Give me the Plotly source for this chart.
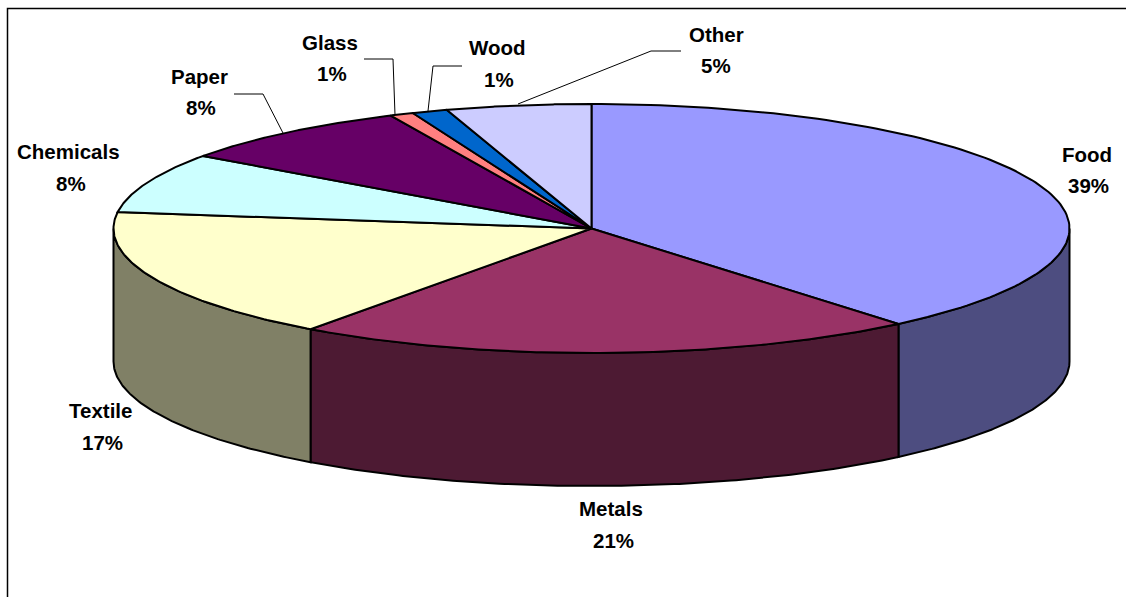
import numpy as np
import plotly.graph_objects as go

categories = ["Food", "Metals", "Textile", "Chemicals", "Paper", "Glass", "Wood", "Other"]
shares = [38.9, 21.1, 17.1, 7.8, 8.2, 0.8, 1.2, 4.9]
percent_labels = ["39%", "21%", "17%", "8%", "8%", "1%", "1%", "5%"]
top_colors = ["#9999FF", "#993366", "#FFFFCC", "#CCFFFF", "#660066", "#FF8080", "#0066CC", "#CCCCFF"]
side_colors = ["#4D4D80", "#4D1A33", "#808066", "#668080", "#330033", "#804040", "#003366", "#666680"]

CX, CY, RX, RY, DEPTH = 591.5, 228.5, 478, 124.5, 133
W, H = 1126, 597
EDGE = dict(color="black", width=2)

name_pos = [(1087, 154), (611, 508), (100, 410), (68, 151), (199, 76), (330, 42), (497, 47), (716, 34)]
pct_pos = [(1088, 185), (613, 540), (102, 442), (71, 183), (201, 107), (332, 73), (499, 79), (716, 65)]
leaders = {
    "Paper": [(234, 94), (263, 94), (283, 133)],
    "Glass": [(364, 59), (393, 59), (395, 115)],
    "Wood": [(462, 66), (433, 66), (428, 111)],
    "Other": [(518, 104), (651, 51), (681, 51)],
}


def rim(a0, a1, n=120):
    t = np.radians(np.linspace(a0, a1, n))
    return CX + RX * np.sin(t), CY - RY * np.cos(t)


fig = go.Figure()
edges = np.concatenate([[0], np.cumsum(shares)]) / sum(shares) * 360

# side walls of the disc (only the front half, 90..270 degrees, is visible)
for i, cat in enumerate(categories):
    a0, a1 = max(edges[i], 90), min(edges[i + 1], 270)
    if a1 <= a0:
        continue
    x, y = rim(a0, a1)
    fig.add_trace(go.Scatter(
        x=np.concatenate([x, x[::-1], x[:1]]),
        y=np.concatenate([y, y[::-1] + DEPTH, y[:1]]),
        mode="lines", fill="toself", fillcolor=side_colors[i], line=EDGE,
        hoverinfo="skip", showlegend=False, name=cat + " side"))

# top faces of the slices
for i, cat in enumerate(categories):
    x, y = rim(edges[i], edges[i + 1])
    fig.add_trace(go.Scatter(
        x=np.concatenate([[CX], x, [CX]]),
        y=np.concatenate([[CY], y, [CY]]),
        mode="lines", fill="toself", fillcolor=top_colors[i], line=EDGE,
        hoverinfo="skip", showlegend=False, name=cat))

# leader lines
for cat, pts in leaders.items():
    fig.add_trace(go.Scatter(
        x=[p[0] for p in pts], y=[p[1] for p in pts], mode="lines",
        line=dict(color="black", width=1), hoverinfo="skip", showlegend=False))

FONT = dict(family="Liberation Sans", size=20.5, color="black")
annotations = []
for i, cat in enumerate(categories):
    for txt, pos in ((cat, name_pos[i]), (percent_labels[i], pct_pos[i])):
        annotations.append(dict(x=pos[0], y=pos[1], text="<b>%s</b>" % txt, showarrow=False,
                                xanchor="center", yanchor="middle", font=FONT))

fig.update_layout(
    width=W, height=H, margin=dict(l=0, r=0, t=0, b=0),
    paper_bgcolor="white", plot_bgcolor="white", showlegend=False,
    xaxis=dict(range=[0, W], visible=False, fixedrange=True),
    yaxis=dict(range=[H, 0], visible=False, fixedrange=True),
    annotations=annotations,
    shapes=[dict(type="rect", x0=7.5, y0=8.5, x1=1140, y1=640, line=dict(color="black", width=1.5),
                 layer="below")],
)
fig.write_html("out.html", config=dict(displayModeBar=False),
               post_script="document.body.style.margin='0';document.body.style.overflow='hidden';")
